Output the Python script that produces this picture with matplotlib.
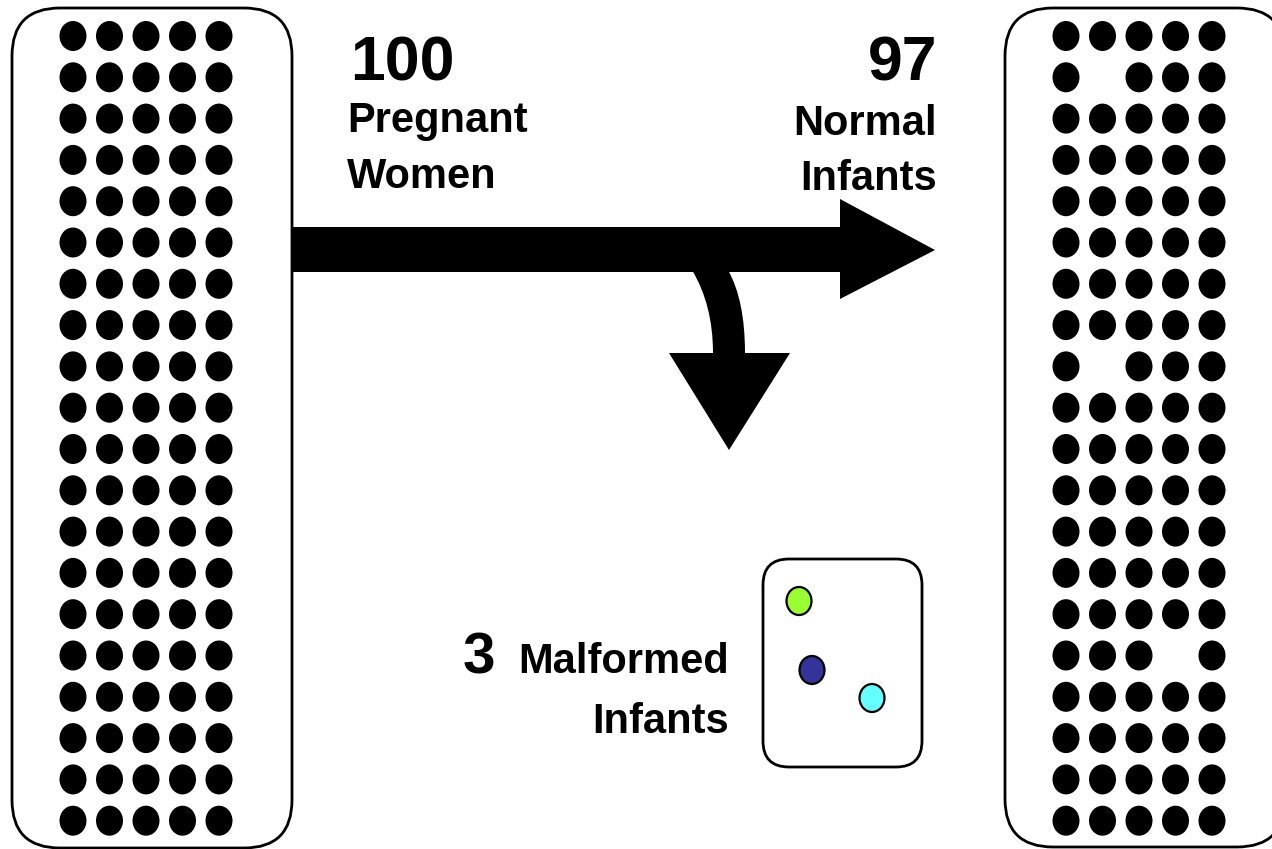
"""
Flow diagram: 100 pregnant women -> 97 normal infants + 3 malformed infants
Drawn in pixel coordinates on a single axis.
"""

import matplotlib
matplotlib.use('Agg')
import matplotlib.pyplot as plt
from matplotlib.patches import FancyBboxPatch, Ellipse, Polygon, PathPatch
from matplotlib.path import Path

# ── Data ──────────────────────────────────────────────────────────────────────
counts = [100, 97, 3]
labels = ["Pregnant\nWomen", "Normal\nInfants", "Malformed\nInfants"]
grid_rows, grid_cols = 20, 5
# cells (row, col) left empty in the normal-infant grid (the 3 malformed ones)
missing_cells = [(1, 1), (8, 1), (15, 3)]
malformed_colors = ['#99FF33', '#333399', '#66FFFF']

# ── Layout (pixels) ───────────────────────────────────────────────────────────
W, H = 1272, 849
DOT_W, DOT_H = 27, 30
COL_STEP, ROW_STEP = 36.5, 41.3
FONT = 'Liberation Sans'

fig = plt.figure(figsize=(W / 100, H / 100), dpi=100, facecolor='white')
ax = fig.add_axes([0, 0, 1, 1])
ax.set_xlim(0, W)
ax.set_ylim(H, 0)
ax.axis('off')


def rounded_box(x0, y0, x1, y1, r, lw=2.0):
    box = FancyBboxPatch((x0, y0), x1 - x0, y1 - y0,
                         boxstyle=f'round,pad=0,rounding_size={r}',
                         fc='white', ec='black', lw=lw, zorder=1)
    ax.add_patch(box)


def dot_grid(x_first, y_first, skip=()):
    for r in range(grid_rows):
        for c in range(grid_cols):
            if (r, c) in skip:
                continue
            ax.add_patch(Ellipse((x_first + c * COL_STEP, y_first + r * ROW_STEP),
                                 DOT_W, DOT_H, fc='black', ec='none', zorder=2))


# ── Left box: all women ───────────────────────────────────────────────────────
rounded_box(12, 8, 292, 848, 48)
dot_grid(73, 36)

# ── Right box: normal infants ─────────────────────────────────────────────────
rounded_box(1005, 8, 1285, 847, 48)
dot_grid(1066, 36, skip=set(missing_cells))

# ── Main arrow ────────────────────────────────────────────────────────────────
main_arrow = Polygon([(292, 227), (840, 227), (840, 199), (935, 250),
                      (840, 299), (840, 272), (292, 272)],
                     closed=True, fc='black', ec='none', zorder=3)
ax.add_patch(main_arrow)

# curved branch down toward the malformed box
verts = [(692, 270), (713, 305), (713, 353),
         (669, 353), (729, 450), (790, 353), (745, 353),
         (745, 300), (728, 270), (692, 270)]
codes = [Path.MOVETO, Path.CURVE3, Path.CURVE3,
         Path.LINETO, Path.LINETO, Path.LINETO, Path.LINETO,
         Path.CURVE3, Path.CURVE3, Path.CLOSEPOLY]
ax.add_patch(PathPatch(Path(verts, codes), fc='black', ec='none', zorder=3))

# ── Malformed box ─────────────────────────────────────────────────────────────
rounded_box(763, 559, 922, 767, 26)
for (x, y), col in zip([(799, 601), (812, 670), (872, 698)], malformed_colors):
    ax.add_patch(Ellipse((x, y), 25, 28, fc=col, ec='black', lw=1.6, zorder=2))

# ── Text ──────────────────────────────────────────────────────────────────────
txt = dict(fontfamily=FONT, fontweight='bold', color='black', zorder=5)

ax.text(350, 80, f"{counts[0]}", ha='left', va='baseline', fontsize=45, **txt)
top, bottom = labels[0].split('\n')
ax.text(347, 132, top, ha='left', va='baseline', fontsize=30, **txt)
ax.text(347, 188, bottom, ha='left', va='baseline', fontsize=30, **txt)

ax.text(937, 80, f"{counts[1]}", ha='right', va='baseline', fontsize=45, **txt)
top, bottom = labels[1].split('\n')
ax.text(937, 135, top, ha='right', va='baseline', fontsize=30, **txt)
ax.text(937, 190, bottom, ha='right', va='baseline', fontsize=30, **txt)

ax.text(463, 673, f"{counts[2]}", ha='left', va='baseline', fontsize=42, **txt)
top, bottom = labels[2].split('\n')
ax.text(729, 673, top, ha='right', va='baseline', fontsize=30, **txt)
ax.text(729, 733, bottom, ha='right', va='baseline', fontsize=30, **txt)

fig.savefig('out.png', dpi=100, facecolor='white')
